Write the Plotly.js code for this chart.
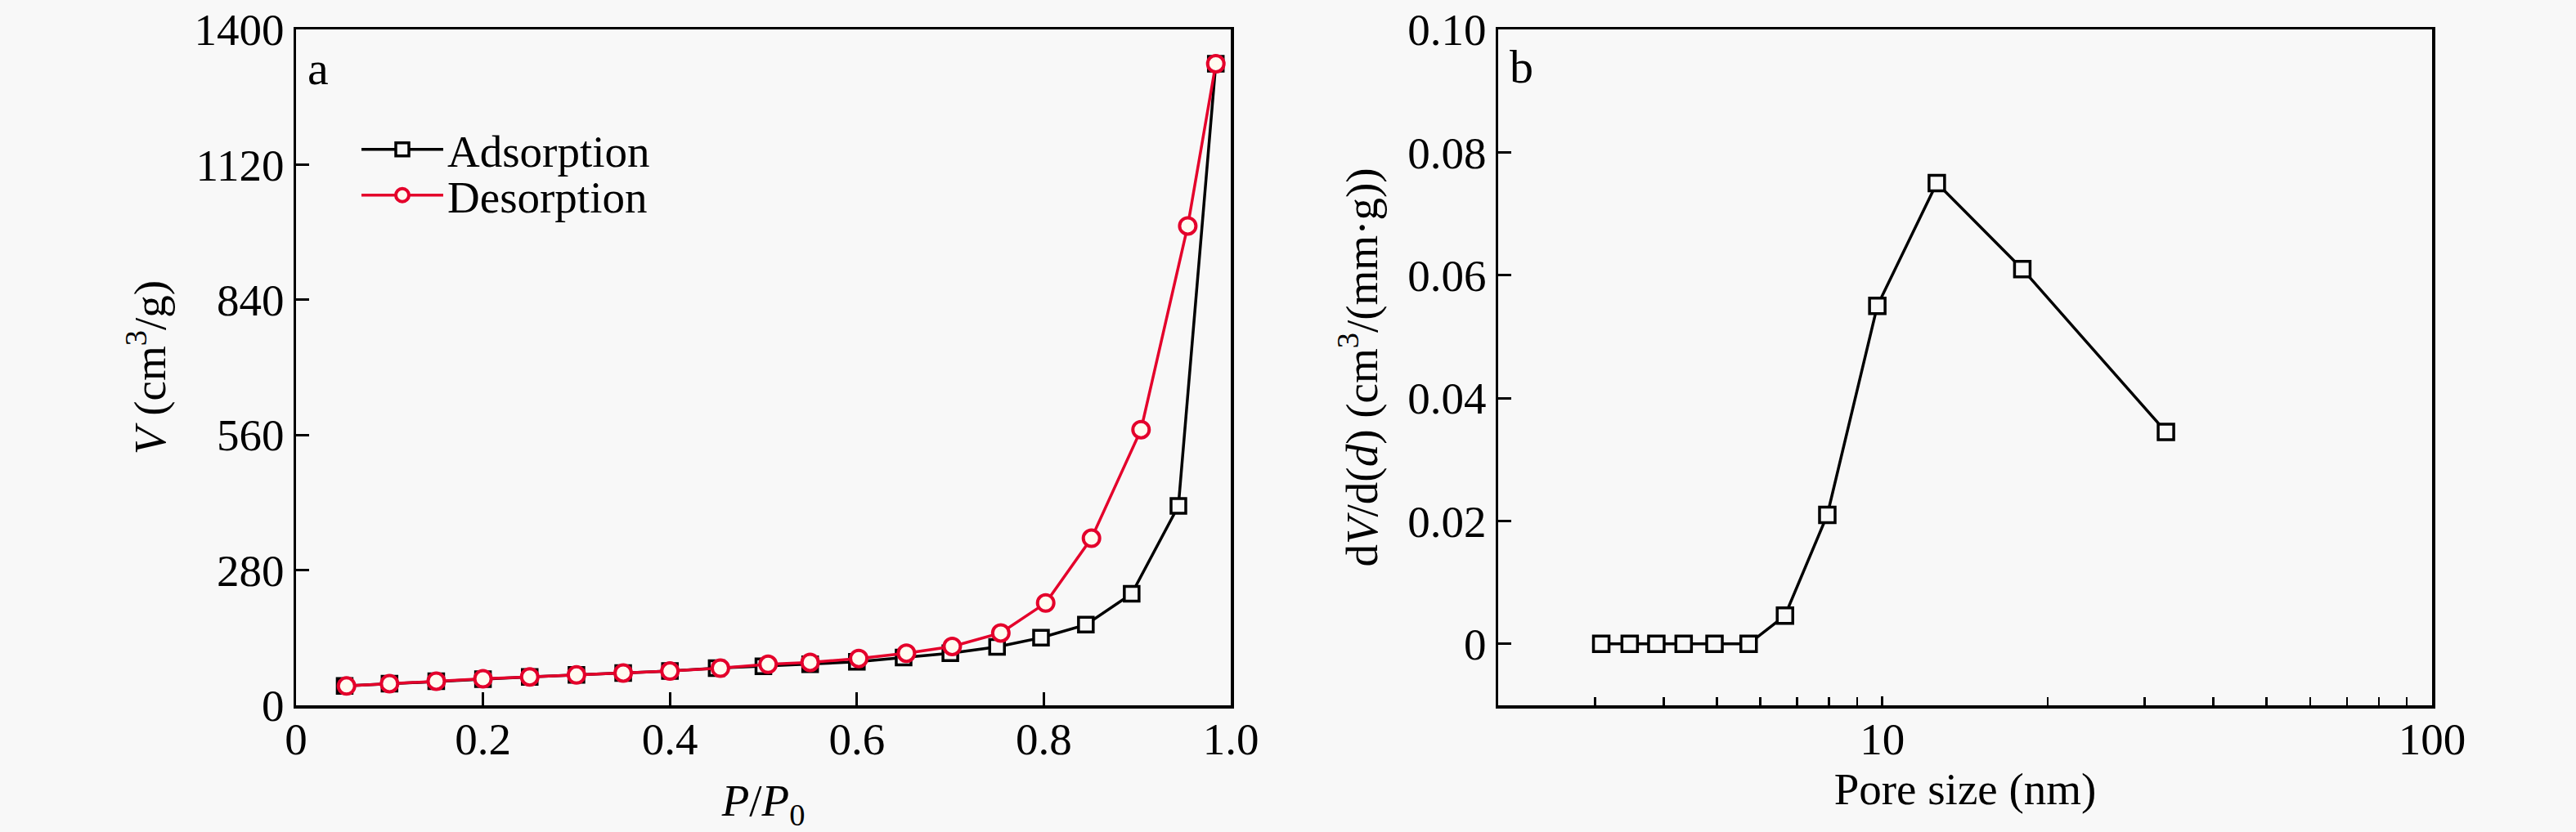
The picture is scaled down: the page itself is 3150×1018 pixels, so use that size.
<!DOCTYPE html>
<html>
<head>
<meta charset="utf-8">
<script src="https://cdn.plot.ly/plotly-3.0.1.min.js"></script>
<style>html,body{margin:0;padding:0;background:#f8f8f8;}</style>
</head>
<body>
<div id="chart" style="width:3150px;height:1018px;"></div>
<script>
// ---- Data ----
const adsP = [0.052,0.10,0.15,0.20,0.25,0.30,0.35,0.40,0.45,0.50,0.55,0.60,0.65,0.70,0.75,0.797,0.845,0.894,0.944,0.984];
const adsV = [40,45,50,54,59,63,67,71,77,81,85,90,99,108,121,140,167,231,413,1329];
const desP = [0.054,0.10,0.15,0.20,0.25,0.30,0.35,0.40,0.454,0.505,0.55,0.602,0.653,0.702,0.754,0.802,0.851,0.904,0.954,0.984];
const desV = [40,45,50,55,59,63,67,71,77,85,89,97,108,122,150,212,346,571,993,1329];
const poreSize = [3.08,3.47,3.88,4.35,4.95,5.71,6.65,7.94,9.79,12.56,17.97,32.8];
const dVdd = [0,0,0,0,0,0,0.0046,0.021,0.055,0.075,0.061,0.0345];

const xTicksA = [0,0.2,0.4,0.6,0.8,1.0];
const xTickTextA = ['0','0.2','0.4','0.6','0.8','1.0'];
const yTicksA = [0,280,560,840,1120,1400];
const yTicksB = [0,0.02,0.04,0.06,0.08,0.10];
const yTickTextB = ['0','0.02','0.04','0.06','0.08','0.10'];
const xTicksB = [10,100];
const xMinorB = [3,4,5,6,7,8,9,20,30,40,50,60,70,80,90];

const FONT = 'Liberation Serif, Times New Roman, serif';
const RED = 'rgb(228,0,43)';
const BG = '#f8f8f8';

const traces = [
  {x: adsP, y: adsV, xaxis:'x', yaxis:'y', mode:'lines+markers', name:'Adsorption',
   line:{color:'black', width:3.5},
   marker:{symbol:'square', size:18, color:BG, line:{color:'black', width:3.5}},
   legend:'legend'},
  {x: desP, y: desV, xaxis:'x', yaxis:'y', mode:'lines+markers', name:'Desorption',
   line:{color:RED, width:3.5},
   marker:{symbol:'circle', size:20, color:'#fffbf0', line:{color:RED, width:4}},
   legend:'legend2'},
  {x: poreSize, y: dVdd, xaxis:'x2', yaxis:'y2', mode:'lines+markers', name:'PSD',
   showlegend:false,
   line:{color:'black', width:3.5},
   marker:{symbol:'square', size:19, color:BG, line:{color:'black', width:3.5}}}
];

const W = 3150, H = 1018;
const axCommon = {showline:true, linewidth:3.5, linecolor:'black', mirror:true,
  showgrid:false, zeroline:false, ticks:'inside', ticklen:16, tickwidth:3, tickcolor:'black',
  tickfont:{family:FONT, size:55, color:'black'}};

const layout = {
  width:W, height:H,
  paper_bgcolor:BG, plot_bgcolor:BG,
  margin:{l:0, r:0, t:0, b:0},
  font:{family:FONT, size:55, color:'black'},
  xaxis: Object.assign({}, axCommon, {
    domain:[362/W, 1505/W], anchor:'y', range:[0,1.0],
    tickmode:'array', tickvals:xTicksA, ticktext:xTickTextA, ticklabelstandoff:-10,
    title:{text:'<i>P</i>/<i>P</i><sub>0</sub>', font:{family:FONT, size:55}, standoff:28}
  }),
  yaxis: Object.assign({}, axCommon, {
    domain:[1-863/H, 1-36/H], anchor:'x', range:[0,1400],
    tickmode:'array', tickvals:yTicksA,
    title:{text:'<i>V</i> (cm<sup>3</sup>/g)', font:{family:FONT, size:55}, standoff:18}
  }),
  xaxis2: Object.assign({}, axCommon, {
    domain:[1832/W, 2974/W], anchor:'y2', type:'log', range:[Math.log10(2), 2],
    tickmode:'array', tickvals:xTicksB, ticktext:['10','100'], ticklen:11, ticklabelstandoff:-10,
    minor:{tickmode:'array', tickvals:xMinorB, ticks:'inside', ticklen:10, tickwidth:2.5, tickcolor:'black'},
    title:{text:'Pore size (nm)', font:{family:FONT, size:55}, standoff:8}
  }),
  yaxis2: Object.assign({}, axCommon, {
    domain:[1-863/H, 1-36/H], anchor:'x2', range:[-0.01, 0.10],
    tickmode:'array', tickvals:yTicksB, ticktext:yTickTextB,
    title:{text:'d<i>V</i>/d(<i>d</i>) (cm<sup>3</sup>/(mm·g))', font:{family:FONT, size:55}, standoff:20}
  }),
  legend:{x:437/W, y:1-183/H, xanchor:'left', yanchor:'middle', bgcolor:'rgba(0,0,0,0)',
    font:{family:FONT, size:55, color:'black'}, itemwidth:100, borderwidth:0},
  legend2:{x:437/W, y:1-239/H, xanchor:'left', yanchor:'middle', bgcolor:'rgba(0,0,0,0)',
    font:{family:FONT, size:55, color:'black'}, itemwidth:100, borderwidth:0},
  annotations:[
    {text:'a', xref:'paper', yref:'paper', x:374/W, y:1-84/H, xanchor:'left', yanchor:'middle',
     showarrow:false, font:{family:FONT, size:58, color:'black'}},
    {text:'b', xref:'paper', yref:'paper', x:1844/W, y:1-81/H, xanchor:'left', yanchor:'middle',
     showarrow:false, font:{family:FONT, size:58, color:'black'}}
  ]
};

Plotly.newPlot('chart', traces, layout, {staticPlot:true, displayModeBar:false});
</script>
</body>
</html>
